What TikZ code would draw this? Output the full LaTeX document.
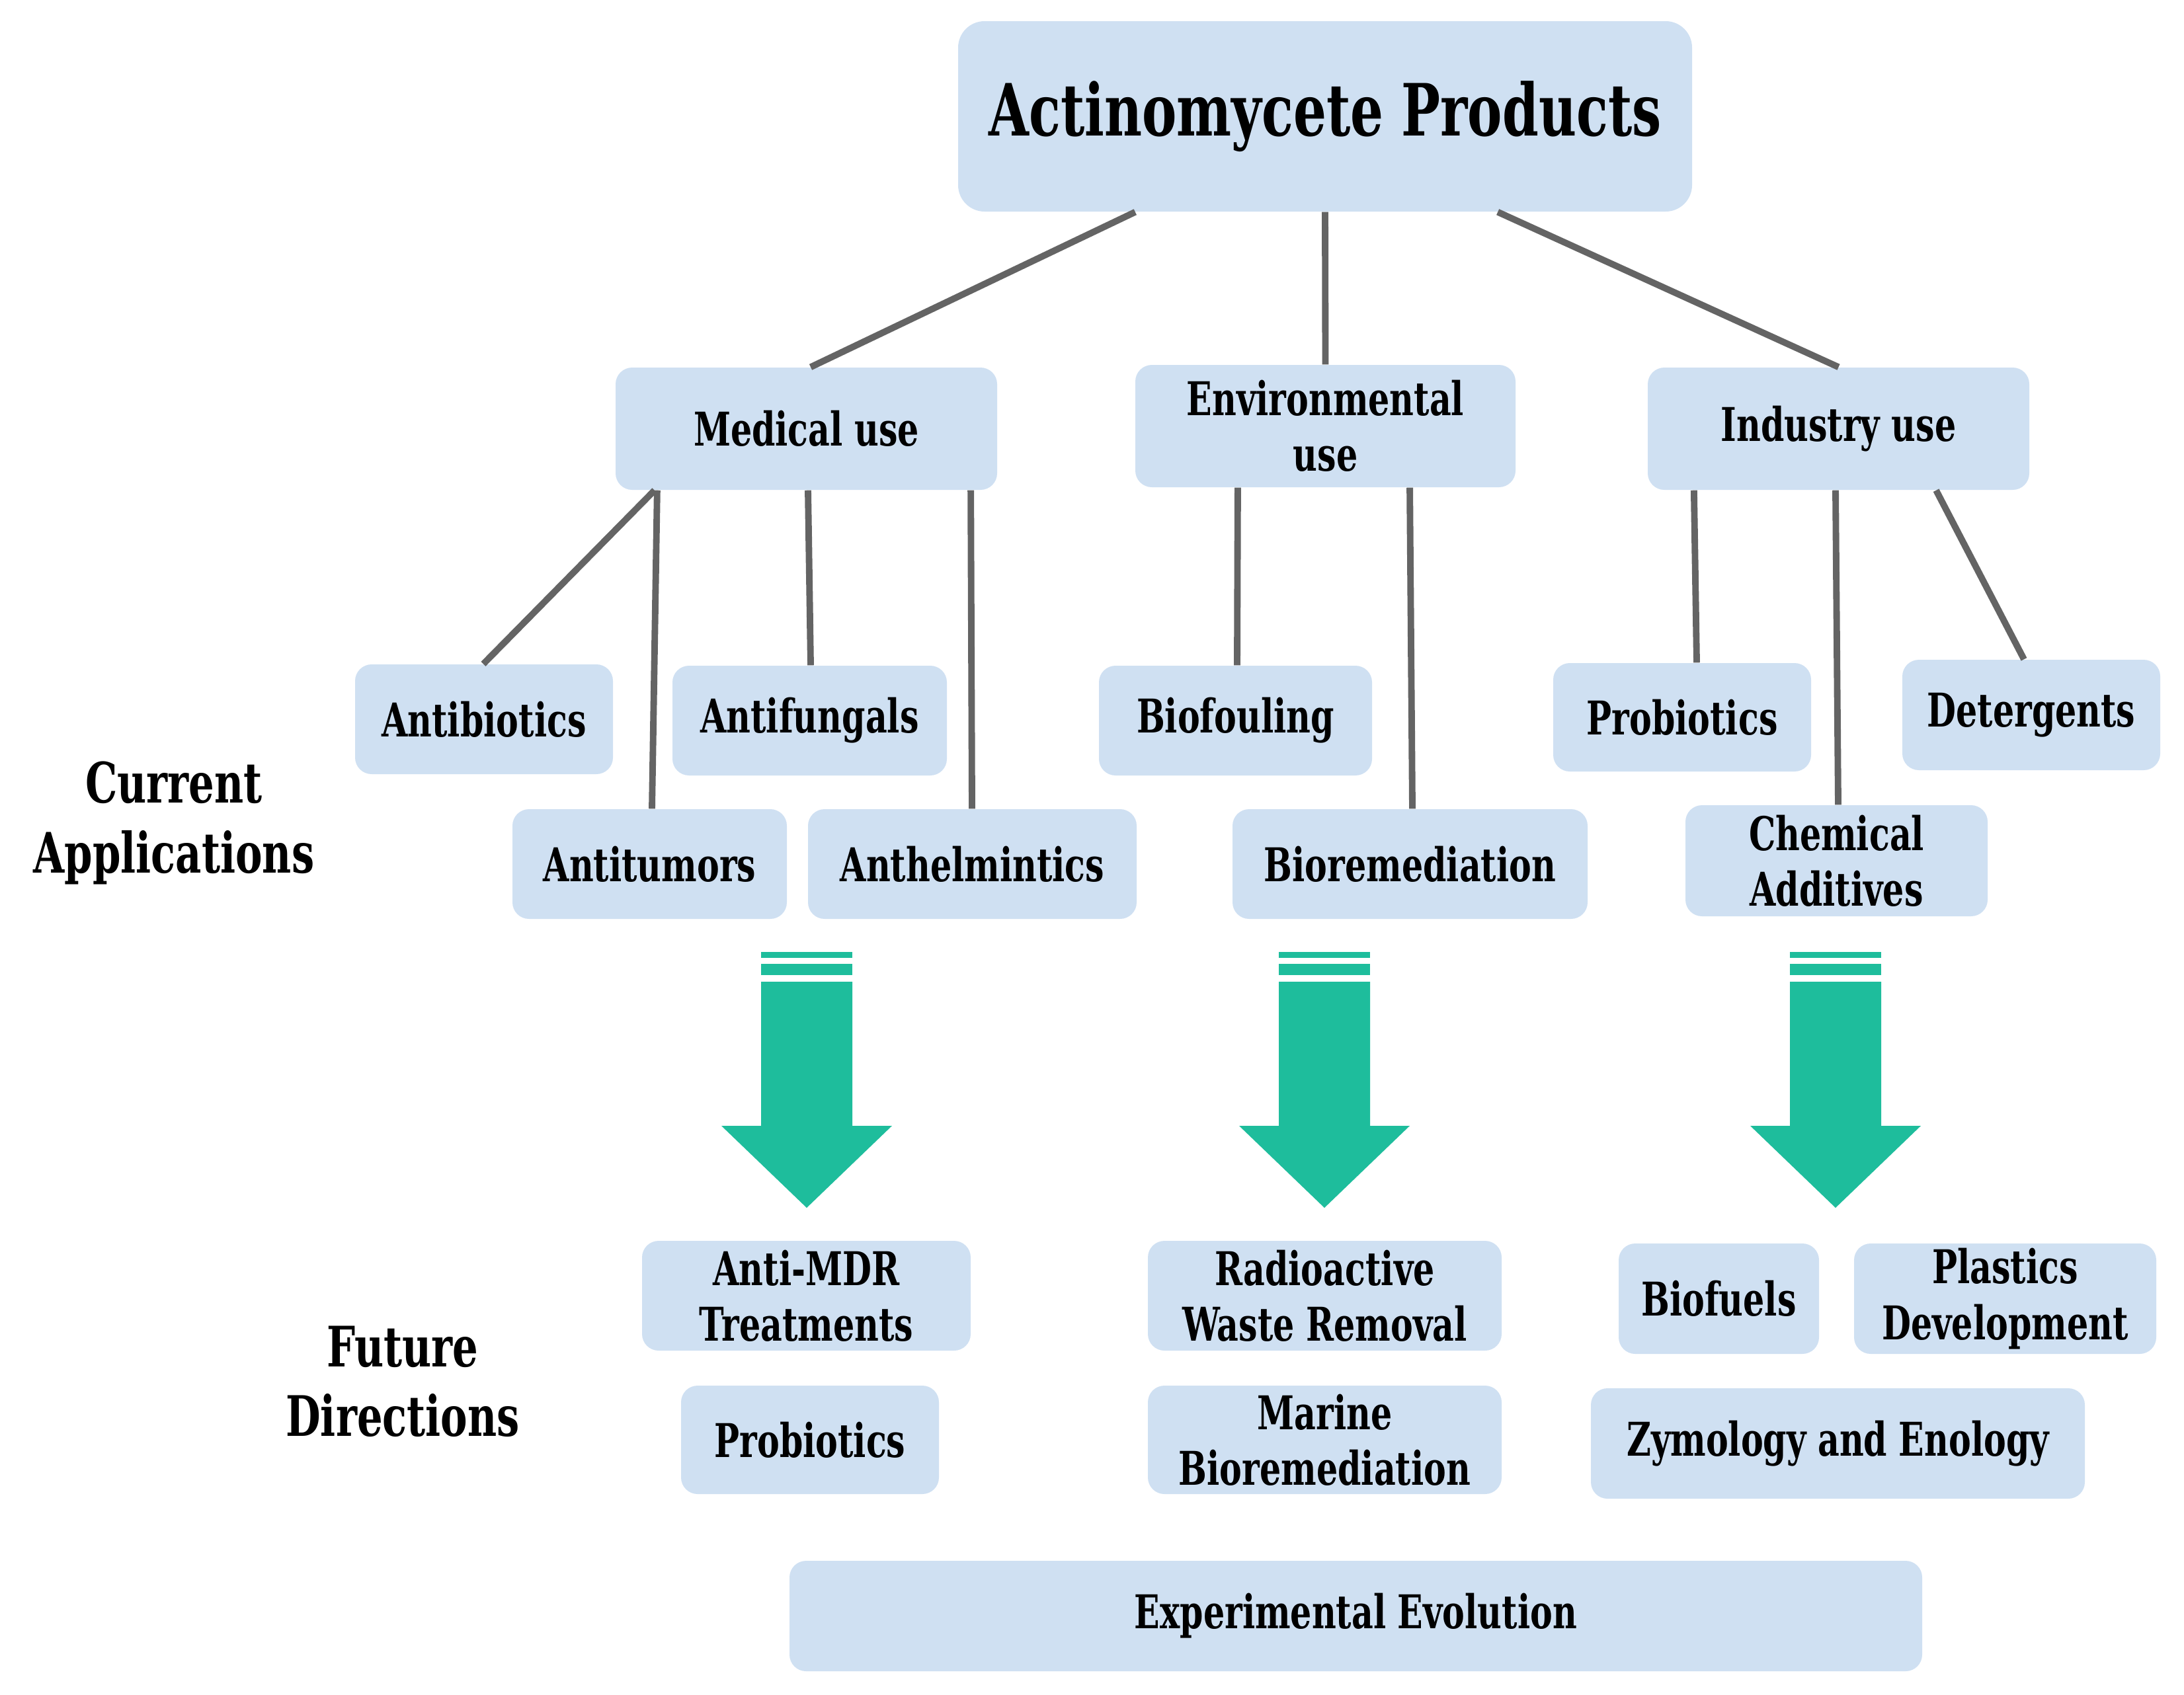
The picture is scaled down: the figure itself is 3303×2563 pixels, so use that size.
\documentclass[tikz,border=0pt]{standalone}
\usepackage{fontspec}
\setmainfont{DejaVu Serif}[FakeStretch=0.72]
\definecolor{boxfill}{RGB}{207,224,242}
\definecolor{linegray}{RGB}{100,100,100}
\definecolor{arrowgreen}{RGB}{30,189,156}
\tikzset{
  box/.style={fill=boxfill, rounded corners=0.25cm, inner sep=0pt, align=center, text=black, font=\bfseries\fontsize{20}{24}\selectfont},
  titlebox/.style={box, rounded corners=0.4cm, font=\bfseries\fontsize{31}{37}\selectfont},
  sidelabel/.style={align=center, inner sep=0pt, font=\bfseries\fontsize{24}{30}\selectfont},
  conn/.style={draw=linegray, line width=2.8pt},
  bigarrow/.style={fill=arrowgreen, draw=none}
}
\newcommand\bx[7][box]{\node[#1, minimum width={(#5-#3)*0.01cm}, minimum height={(#6-#4)*0.01cm}] (#2) at ({(#3+#5)/2},{(#4+#6)/2}) {#7};}
\newcommand\dnarrow[1]{%
  \fill[arrowgreen] (#1-69,1440) rectangle (#1+69,1449);
  \fill[arrowgreen] (#1-69,1458) rectangle (#1+69,1475);
  \fill[arrowgreen] (#1-69,1485) -- (#1+69,1485) -- (#1+69,1703) -- (#1+129,1703) -- (#1,1827) -- (#1-129,1703) -- (#1-69,1703) -- cycle;}
\begin{document}
\begin{tikzpicture}[x=0.01cm,y=-0.01cm]
\useasboundingbox (0,0) rectangle (3303,2563);
% top
\bx[titlebox]{top}{1449}{32}{2559}{320}{\raisebox{-0.08cm}{Actinomycete Products}}
\bx{med}{931}{556}{1508}{741}{Medical use}
\bx{env}{1717}{552}{2292}{737}{Environmental\\use}
\bx{ind}{2492}{556}{3069}{741}{Industry use}
% current
\bx{abio}{537}{1005}{927}{1171}{Antibiotics}
\bx{afun}{1017}{1007}{1432}{1173}{Antifungals}
\bx{atum}{775}{1224}{1190}{1390}{Antitumors}
\bx{anth}{1222}{1224}{1719}{1390}{Anthelmintics}
\bx{biof}{1662}{1007}{2075}{1173}{Biofouling}
\bx{biorem}{1864}{1224}{2401}{1390}{Bioremediation}
\bx{prob}{2349}{1003}{2739}{1167}{Probiotics}
\bx{deter}{2877}{998}{3267}{1165}{Detergents}
\bx{chem}{2549}{1218}{3006}{1386}{Chemical\\Additives}
% future
\bx{mdr}{971}{1877}{1468}{2043}{Anti-MDR\\Treatments}
\bx{fprob}{1030}{2096}{1420}{2260}{Probiotics}
\bx{radio}{1736}{1877}{2271}{2043}{Radioactive\\Waste Removal}
\bx{marine}{1736}{2096}{2271}{2260}{Marine\\Bioremediation}
\bx{fuel}{2448}{1881}{2751}{2048}{Biofuels}
\bx{plast}{2804}{1881}{3261}{2048}{Plastics\\Development}
\bx{zymo}{2406}{2100}{3153}{2267}{Zymology and Enology}
\bx{expev}{1194}{2361}{2907}{2528}{Experimental Evolution}
% side labels
\node[sidelabel] (curr) at (263,1245) {Current\\Applications};
\node[sidelabel] (fut) at (609,2090) {Future\\Directions};
% connectors
\draw[conn] ([xshift=-2.87cm]top.south) -- ([xshift=0.065cm]med.north);
\draw[conn] (top.south) -- (env.north);
\draw[conn] ([xshift=2.61cm]top.south) -- (ind.north);
\draw[conn] ([xshift=-2.295cm]med.south) -- (abio.north -| 731,0);
\draw[conn] ([xshift=-2.255cm]med.south) -- (atum.north -| 986,0);
\draw[conn] ([xshift=0.025cm]med.south) -- (afun.north -| 1226,0);
\draw[conn] ([xshift=2.485cm]med.south) -- (anth.north -| 1470,0);
\draw[conn] ([xshift=-1.325cm]env.south) -- (biof.north -| 1871,0);
\draw[conn] ([xshift=1.275cm]env.south) -- (biorem.north -| 2136,0);
\draw[conn] ([xshift=-2.185cm]ind.south) -- (prob.north -| 2566,0);
\draw[conn] ([xshift=-0.045cm]ind.south) -- (chem.north -| 2780,0);
\draw[conn] ([xshift=1.475cm]ind.south) -- (deter.north -| 3061,0);
% arrows
\dnarrow{1220}
\dnarrow{2003}
\dnarrow{2776}
\end{tikzpicture}
\end{document}
